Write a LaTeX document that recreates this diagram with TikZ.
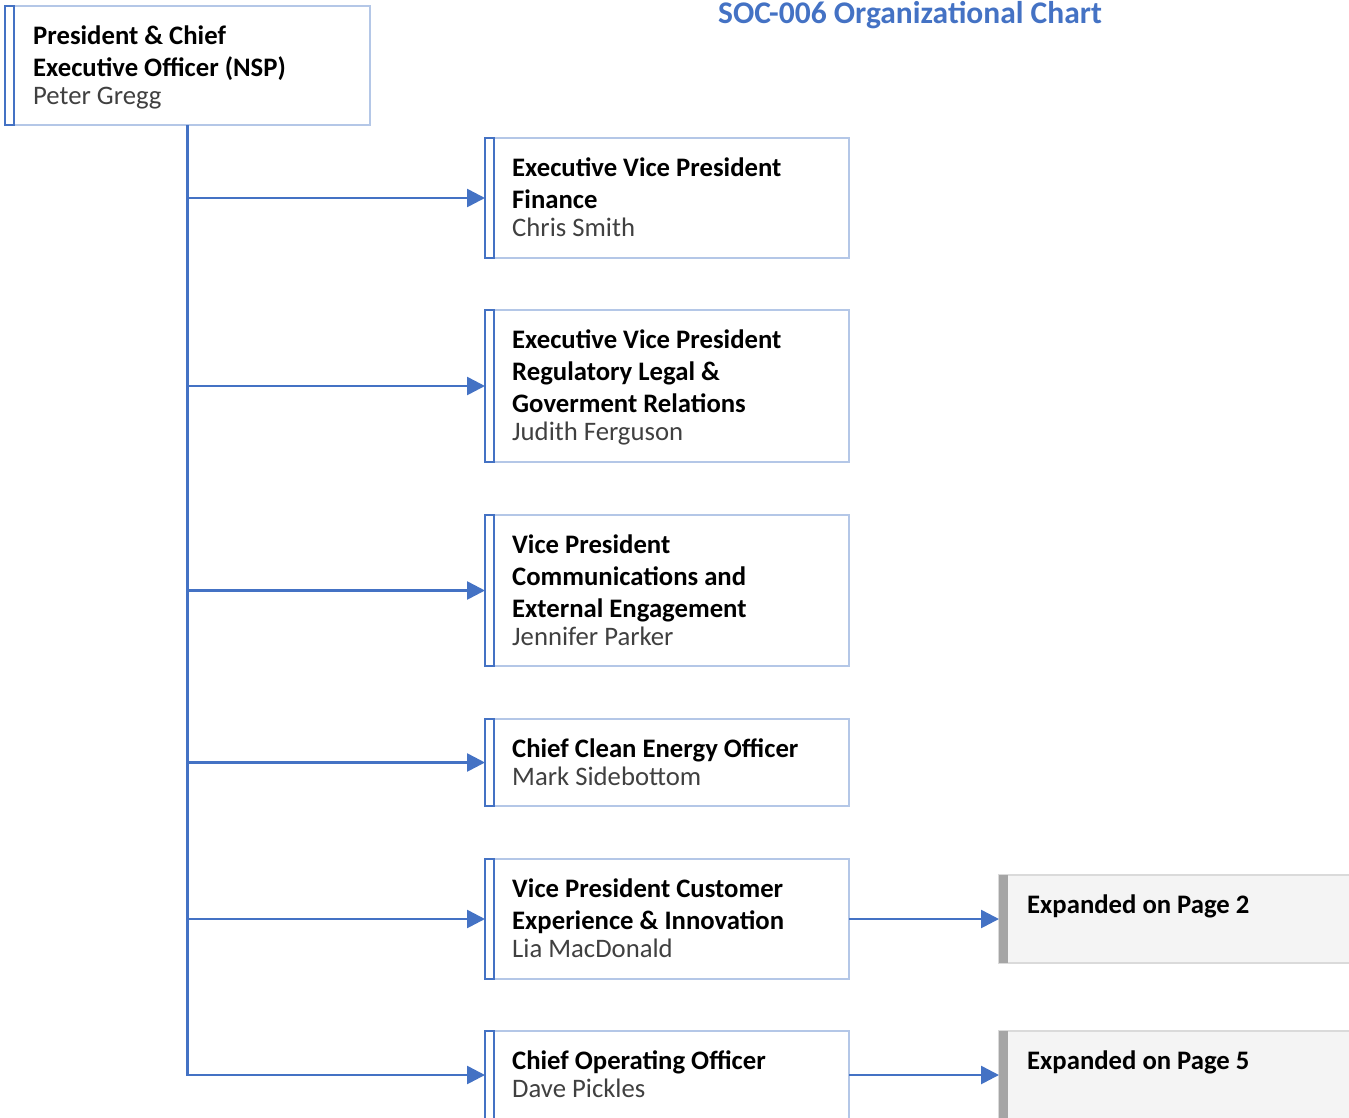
\documentclass[tikz,border=0pt]{standalone}
\usepackage{fontspec}
\setmainfont{Carlito}
\usetikzlibrary{arrows.meta}
\definecolor{acc}{HTML}{4472C4}
\definecolor{lb}{HTML}{B4C7E7}
\definecolor{gbar}{HTML}{A5A5A5}
\definecolor{gfill}{HTML}{F4F4F4}
\definecolor{gline}{HTML}{DADADA}
\definecolor{nm}{HTML}{404040}
\newcommand\roletext[2]{\parbox[t]{340pt}{\bfseries #1\\[-4pt]\mdseries\color{nm}#2}}
\tikzset{
  box/.style={draw=lb, line width=1.5pt, fill=white, anchor=north west, inner sep=0pt, outer sep=0pt, minimum width=364pt},
  strip/.style={draw=acc, line width=1.5pt},
  gbox/.style={draw=gline, line width=1.2pt, fill=gfill, anchor=north west, inner sep=0pt, outer sep=0pt, minimum width=400pt},
  conn/.style={draw=acc, line width=2.6pt, -{Triangle[length=18pt,width=18pt]}},
  txt/.style={anchor=base west, inner sep=0pt, font=\fontsize{26.7}{32}\selectfont},
  title/.style={anchor=base, inner sep=0pt, text=acc, font=\fontsize{31.5}{36}\selectfont\bfseries}
}
\begin{document}
\begin{tikzpicture}[x=1pt,y=-1pt]
\useasboundingbox (0,0) rectangle (1349,1117);
% title
\node[title] (ttl) at (910,23.5) {SOC-006 Organizational Chart};
% CEO
\node[box, minimum width=365pt, minimum height=119pt] (ceo) at (5,6) {};
\draw[strip] (ceo.north west) rectangle ([xshift=9pt]ceo.south west);
\node[txt] (ceot) at (33,44) {\roletext{President \& Chief\\Executive Officer (NSP)}{Peter Gregg}};
% boxes
\node[box, minimum height=120pt] (b1) at (485,138) {};
\node[box, minimum height=152pt] (b2) at (485,310) {};
\node[box, minimum height=151pt] (b3) at (485,515) {};
\node[box, minimum height=87pt] (b4) at (485,719) {};
\node[box, minimum height=120pt] (b5) at (485,859) {};
\node[box, minimum height=88pt] (b6) at (485,1031) {};
\foreach \b in {b1,b2,b3,b4,b5,b6}{
  \draw[strip] (\b.north west) rectangle ([xshift=9pt]\b.south west);
}
\node[txt] (b1t) at (512,176) {\roletext{Executive Vice President\\Finance}{Chris Smith}};
\node[txt] (b2t) at (512,348) {\roletext{Executive Vice President\\Regulatory Legal \&\\Goverment Relations}{Judith Ferguson}};
\node[txt] (b3t) at (512,553) {\roletext{Vice President\\Communications and\\External Engagement}{Jennifer Parker}};
\node[txt] (b4t) at (512,757) {\roletext{Chief Clean Energy Officer}{Mark Sidebottom}};
\node[txt] (b5t) at (512,897) {\roletext{Vice President Customer\\Experience \& Innovation}{Lia MacDonald}};
\node[txt] (b6t) at (512,1069) {\roletext{Chief Operating Officer}{Dave Pickles}};
% gray boxes
\node[gbox, minimum height=88pt] (g1) at (999,875) {};
\node[gbox, minimum height=88pt] (g2) at (999,1031) {};
\fill[gbar] (g1.north west) rectangle ([xshift=9pt]g1.south west);
\fill[gbar] (g2.north west) rectangle ([xshift=9pt]g2.south west);
\node[txt, font=\fontsize{26.7}{32}\selectfont\bfseries] (g1t) at (1027,913) {Expanded on Page 2};
\node[txt, font=\fontsize{26.7}{32}\selectfont\bfseries] (g2t) at (1027,1069) {Expanded on Page 5};
% connectors
\draw[conn] (ceo.south) |- (b6.west);
\foreach \b in {b1,b2,b3,b4,b5}{
  \draw[conn] (ceo.south |- \b.west) -- (\b.west);
}
\draw[conn] (b5.east) -- (g1.west);
\draw[conn] (b6.east) -- (g2.west);
\end{tikzpicture}
\end{document}
